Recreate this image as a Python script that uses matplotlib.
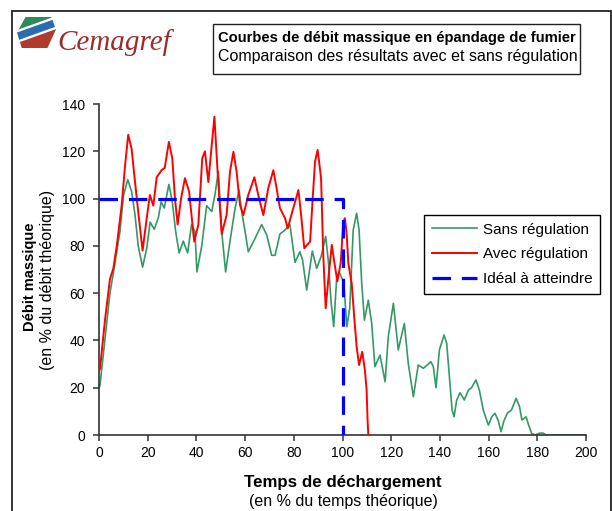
import matplotlib
matplotlib.use("Agg")
import matplotlib.pyplot as plt
from matplotlib.patches import Rectangle, Polygon
import numpy as np

plt.rcParams['font.family'] = ['Liberation Sans', 'DejaVu Sans']

# ---------------- data ----------------
sans_x = [0, 0.4, 2.5, 4.5, 6.6, 8.6, 10, 11.8, 13.4, 14.8, 16.1, 17.9, 19.6, 21, 22.7, 24.4,
          25.5, 26.8, 28.7, 30.1, 31.5, 32.9, 34.6, 36.4, 38, 39.4, 40.2, 42.2, 44.2, 46.3,
          47.6, 49, 50.4, 52, 53.8, 55.9, 57.5, 58.6, 60, 61.3, 64, 66.8, 68.9, 70.9, 72.3,
          74.3, 76.4, 78.4, 80.5, 82.5, 83.6, 85.3, 87.6, 89.4, 91.2, 93.1, 94.2, 95.3, 96.4,
          97.6, 98.6, 100.5, 101.8, 103, 104.4, 105.8, 106.8, 107.9, 109, 110.6, 112, 113.3,
          115.4, 117.5, 118.8, 120.9, 122.9, 125.4, 127, 129.1, 131.1, 133.2, 136.3, 137.3,
          138.4, 139.8, 141.7, 142.8, 143.9, 145, 145.8, 146.9, 148.3, 150, 151.7, 153, 154.8,
          156.2, 157.8, 159.9, 161.3, 162.6, 164, 165.1, 166.3, 167.7, 169.4, 171.3, 172.7,
          173.7, 175.4, 176.5, 177.7, 179, 181, 182.5, 183.5, 200]
sans_y = [20, 21, 41, 60, 73, 86, 101, 108, 103, 93, 80, 71, 79, 90, 87, 92,
          98.6, 96, 106, 98.7, 86, 77, 82, 77, 89, 86, 69, 80, 97, 94.5,
          101.5, 111.5, 86, 69, 82, 96, 103.6, 94.5, 86, 77.5, 83, 89, 84.6, 76, 76,
          85, 86.7, 89, 73, 77.5, 74, 61.3, 77.8, 70.5, 75.4, 84, 73.3, 56.4, 45.8,
          66.3, 69, 64.5, 45.8, 54, 86.7, 93.8, 86.7, 64, 48.6, 57, 47.2, 28.9,
          33.8, 22.5, 41.6, 55.7, 36, 47.2, 30.3, 16.2, 29.6, 28.2, 31, 28.9,
          20, 36, 42.3, 38.7, 24.7, 10.6, 7.7, 14.8, 17.9, 14.8, 19, 20, 23.3,
          19, 10.6, 4.2, 7.7, 9.2, 6, 1.4, 6, 9.2, 10.6, 15.5, 12,
          6.3, 7.7, 4, 0.7, 0, 0.8, 0.8, 0, 0]

avec_x = [0, 0.4, 2.5, 4.5, 5.9, 7.3, 9.3, 10.7, 12, 13.4, 14.8, 16.1, 17.9, 19.6, 20.9,
          22.3, 23.7, 25.7, 27, 28.7, 30.1, 31.2, 32.3, 33.7, 35.3, 37, 39.1, 40.8, 42.4,
          43.5, 44.9, 46.3, 47.4, 48.7, 50.4, 52.4, 53.8, 55.2, 56.5, 57.9, 59.3, 61.3,
          63.8, 65.4, 67.5, 69.5, 71.6, 73, 74.3, 76.4, 77.5, 79.4, 81.9, 83, 84.3, 86.7,
          87.6, 88.7, 89.8, 91.2, 92.1, 93.1, 94.2, 95.6, 96.5, 97.9, 99.3, 100.3, 101,
          101.7, 102.4, 103.8, 104.8, 105.8, 106.8, 108.1, 109.2, 109.9, 110.3, 110.6]
avec_y = [27, 28, 49, 66, 70.5, 80, 97, 114, 127, 121, 107, 94.5, 78, 91.7, 101.5,
          97, 109, 112, 113, 124, 117, 100, 89, 100, 108.6, 103, 81.8, 89, 117,
          120, 107, 122.7, 134.6, 111.4, 85, 93, 111.4, 119.8, 111.4, 97.3, 93, 101.5,
          109, 101.5, 93, 104.3, 112, 104, 96, 91.7, 87.4, 94.5, 103.6, 93, 79, 81.8,
          97.3, 115.6, 120.6, 108.6, 76, 53.6, 66.3, 80.4, 74, 65, 73, 90, 91.7,
          85.3, 72.6, 64, 50, 37.4, 29.6, 35.2, 27.5, 19, 6.3, 0]

ideal_x = [0, 100, 100]
ideal_y = [100, 100, 0]

x_ticks = [0, 20, 40, 60, 80, 100, 120, 140, 160, 180, 200]
y_ticks = [0, 20, 40, 60, 80, 100, 120, 140]

labels = ["Sans régulation", "Avec régulation", "Idéal à atteindre"]
title1 = "Courbes de débit massique en épandage de fumier"
title2 = "Comparaison des résultats avec et sans régulation"

# ---------------- layout ----------------
W, H = 612, 511
fig = plt.figure(figsize=(W / 100, H / 100), dpi=100)

def fx(px):
    return px / W

def fy(py):
    return 1 - py / H

ax = fig.add_axes([fx(99), fy(435), fx(586) - fx(99), fy(104) - fy(435)])

ax.plot(sans_x, sans_y, color='#339966', lw=1.2, label=labels[0], zorder=2)
ax.plot(avec_x, avec_y, color='#ff0000', lw=1.4, label=labels[1], zorder=3)
ax.plot(ideal_x, ideal_y, color='#0000ff', lw=2.3, linestyle=(0, (5.8, 3.4)),
        label=labels[2], zorder=4)

ax.set_xlim(0, 200)
ax.set_ylim(0, 140)
ax.set_xticks(x_ticks)
ax.set_yticks(y_ticks)
ax.tick_params(axis='both', direction='out', length=4, width=1.1, color='#333333',
               labelsize=10, labelcolor='black')
ax.tick_params(axis='y', pad=6)
ax.tick_params(axis='x', pad=4)
for s in ['top', 'right']:
    ax.spines[s].set_visible(False)
for s in ['left', 'bottom']:
    ax.spines[s].set_color('#333333')
    ax.spines[s].set_linewidth(1.2)

leg = ax.legend(loc='upper left', bbox_to_anchor=(fx(424), fy(215)),
                bbox_transform=fig.transFigure, fontsize=11, frameon=True,
                fancybox=False, edgecolor='black', framealpha=1,
                handlelength=3.0, handletextpad=0.35, labelspacing=0.7,
                borderpad=0.5, borderaxespad=0)
leg.get_frame().set_linewidth(1.0)

# axis labels
fig.text(fx(343), fy(482), "Temps de déchargement", ha='center', va='center',
         fontsize=12.2, fontweight='bold')
fig.text(fx(343), fy(501), "(en % du temps théorique)", ha='center', va='center',
         fontsize=11.5)
fig.text(fx(30), fy(277), "Débit massique", ha='center', va='center',
         fontsize=10.5, fontweight='bold', rotation=90)
fig.text(fx(48), fy(280), "(en % du débit théorique)", ha='center', va='center',
         fontsize=11.5, rotation=90)

# outer frame
fig.add_artist(Rectangle((fx(12), -0.02), fx(611) - fx(12), fy(11) + 0.02,
                         transform=fig.transFigure, fill=False, edgecolor='#222222',
                         lw=1.3))

# title box
fig.add_artist(Rectangle((fx(213), fy(74)), fx(580) - fx(213), fy(24) - fy(74),
                         transform=fig.transFigure, fill=False, edgecolor='#222222',
                         lw=1.0))
fig.text(fx(397), fy(38), title1, ha='center', va='center', fontsize=10.6,
         fontweight='bold')
fig.text(fx(398), fy(57), title2, ha='center', va='center', fontsize=11.5)

# logo icon
lax = fig.add_axes([fx(17), fy(48), fx(56) - fx(17), fy(17) - fy(48)])
lax.set_xlim(0, 1)
lax.set_ylim(0, 1)
lax.axis('off')
hexagon = Polygon([(0.0, 0.5), (0.22, 1.0), (0.88, 1.0), (1.0, 0.6), (0.78, 0.0),
                   (0.12, 0.0)], closed=True, facecolor='none', edgecolor='none')
lax.add_patch(hexagon)
slope = 0.45
def band(lo, hi):
    return [(-0.2, lo - 0.2 * slope), (1.2, lo + 1.2 * slope),
            (1.2, hi + 1.2 * slope), (-0.2, hi - 0.2 * slope)]
bands = [(band(0.58, 3.0), '#2e8b57'),
         (band(0.24, 0.50), '#2b6cb0'),
         (band(-3.0, 0.16), '#b03a2e')]
for pts, col in bands:
    p = Polygon(pts, closed=True, facecolor=col, edgecolor='none')
    lax.add_patch(p)
    p.set_clip_path(hexagon)

fig.text(fx(57), fy(50), "Cemagref", ha='left', va='baseline', fontsize=21,
         family=['Liberation Serif', 'DejaVu Serif'], style='italic', color='#9b2d2a')

fig.savefig("out.png", dpi=100)
